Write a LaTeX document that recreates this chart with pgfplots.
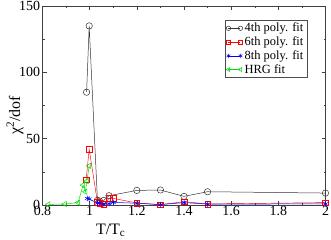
\documentclass[border=0pt]{standalone}
\usepackage{fontspec}
\setmainfont{Liberation Serif}
\usepackage{pgfplots}
\pgfplotsset{compat=1.18}
\definecolor{xgred}{RGB}{255,0,0}
\definecolor{xgblue}{RGB}{0,0,255}
\definecolor{xggreen}{RGB}{0,220,0}
\begin{document}
\begin{tikzpicture}
\begin{axis}[
  scale only axis,
  width=283bp, height=199bp,
  xmin=0.8, xmax=2, ymin=0, ymax=150,
  xtick={0.8,1,1.2,1.4,1.6,1.8,2},
  xticklabels={0.8,1,1.2,1.4,1.6,1.8,2},
  ytick={0,50,100,150},
  minor x tick num=1, minor y tick num=1,
  tick align=inside,
  major tick length=4bp, minor tick length=2bp,
  axis line style={black!75, line width=0.6bp},
  every tick/.style={black!75, line width=0.5bp},
  /pgf/number format/assume math mode=true,
  ticklabel style={font=\fontsize{14}{15}\selectfont},
  xticklabel style={yshift=2bp},
  yticklabel style={xshift=1bp},
  xlabel={T/T\textsubscript{c}},
  ylabel={χ\textsuperscript{2}/dof},
  label style={font=\fontsize{16}{17}\selectfont},
  xlabel style={at={(axis description cs:0.241,-0.128)}, anchor=center},
  ylabel style={at={(axis description cs:-0.097,0.45)}, anchor=center},
  legend style={at={(0.935,0.93)}, anchor=north east,
    draw=black!70, line width=0.5bp, font=\fontsize{12.5}{14}\selectfont,
    inner xsep=1.5bp, inner ysep=1bp, row sep=-0.5bp},
  legend cell align=left,
  legend image code/.code={\draw[mark size=2.2bp,#1] plot coordinates {(0bp,0bp) (12bp,0bp)};},
  clip=false,
]
\coordinate (SW) at (rel axis cs:0,0);
\coordinate (NE) at (rel axis cs:1,1);
\addplot[black!80, line width=0.5bp, mark=o, mark size=3.2bp, mark options={solid}] coordinates {
 (0.987,85) (0.998,135) (1.033,3.5) (1.042,3) (1.06,3.5) (1.082,7) (1.2,11) (1.3,11.3) (1.4,6.5) (1.5,10) (2.0,9)
};
\addlegendentry{4th poly. fit}
\addplot[xgred, line width=0.45bp, mark=square, mark size=2.8bp, mark options={solid}] coordinates {
 (0.985,19) (0.998,42) (1.033,2) (1.042,1.5) (1.06,0.5) (1.082,5) (1.1,5) (1.2,1.5) (1.3,0.3) (1.4,2.5) (1.5,0.8) (2.0,1.8)
};
\addlegendentry{6th poly. fit}
\addplot[xgblue, line width=0.5bp, mark=asterisk, mark size=2.8bp, mark options={solid}] coordinates {
 (0.99,5) (0.998,4.5) (1.033,1.5) (1.042,1.5) (1.06,0.5) (1.082,1) (1.1,2) (1.2,1.3) (1.3,0.3) (1.4,1.8) (1.5,0.7) (2.0,0.8)
};
\addlegendentry{8th poly. fit}
\addplot[xggreen, line width=0.5bp, mark=triangle, mark size=3bp, mark options={solid, rotate=90}] coordinates {
 (0.825,0.5) (0.895,0.7) (0.951,1.8) (0.972,15) (0.982,10) (0.988,18) (0.998,29.5)
};
\addlegendentry{HRG fit}
\end{axis}
\pgfresetboundingbox
\path ([shift={(-42.5bp,-35bp)}]SW) rectangle ([shift={(5.5bp,6bp)}]NE);
\end{tikzpicture}
\end{document}
